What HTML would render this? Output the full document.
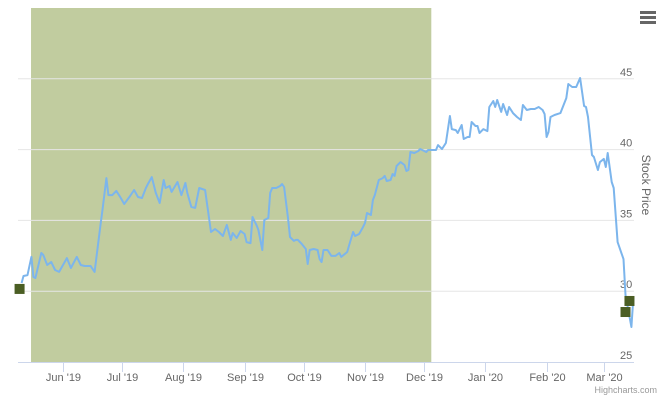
<!DOCTYPE html>
<html><head><meta charset="utf-8"><style>
body{margin:0;background:#fff;}
svg{display:block;font-family:"Liberation Sans",sans-serif;}
</style></head><body>
<svg id="chart" width="660" height="400" viewBox="0 0 660 400" xmlns="http://www.w3.org/2000/svg">
<rect width="660" height="400" fill="#fff"/>
<g id="grid"></g>
<g id="band"></g>
<g id="xaxis"></g>
<g id="yaxis"></g>
<g id="series"></g>
<g id="flags"></g>
<text transform="translate(642,185) rotate(90)" text-anchor="middle" font-size="12" fill="#666">Stock Price</text>
<g>
<rect x="639" y="10" width="18" height="16" fill="#fff"/>
<rect x="640" y="11" width="16" height="3" fill="#666"/>
<rect x="640" y="16" width="16" height="3" fill="#666"/>
<rect x="640" y="21" width="16" height="3" fill="#666"/>
</g>
<text x="657" y="393" text-anchor="end" font-size="9" fill="#999">Highcharts.com</text>
</svg>
<script>
// days since 2019-06-01
const days=[-21,-20,-18,-16,-15,-14,-11,-10,-8,-6,-4,-2,2,4,7,9,11,14,16,19,20,22,23,25,27,29,31,34,36,38,40,42,43,45,47,49,51,52,54,55,58,60,62,63,65,67,69,72,75,77,79,81,83,85,86,88,90,92,93,95,96,98,99,101,102,104,105,106,108,110,111,112,114,115,117,118,119,121,123,124,125,127,129,130,131,132,134,136,138,140,141,144,145,147,148,150,152,153,154,156,157,158,160,162,163,164,166,167,168,169,171,173,174,175,176,178,180,181,184,185,186,189,190,192,194,196,197,199,200,202,203,205,206,207,209,210,211,213,215,216,218,219,220,222,223,225,226,228,230,232,233,235,237,239,241,243,244,245,246,247,249,252,255,256,258,260,262,264,265,266,268,269,271,272,274,275,276,278,279,281,284,285,288,289];
const prices=[30.58,31.07,31.14,32.42,31.00,30.93,32.70,32.56,31.85,32.06,31.50,31.36,32.34,31.64,32.42,31.85,31.78,31.78,31.36,34.68,35.75,37.99,36.79,36.79,37.08,36.65,36.16,36.72,37.15,36.65,36.58,37.29,37.57,38.06,36.94,36.23,37.85,37.29,37.43,37.01,37.71,36.79,37.64,36.94,35.95,35.88,37.29,37.15,34.18,34.39,34.18,33.90,34.68,33.62,34.11,33.76,34.25,34.04,33.47,33.40,35.24,34.68,34.32,32.91,35.03,35.17,36.94,37.29,37.29,37.43,37.57,37.36,35.17,33.83,33.55,33.62,33.62,33.33,32.98,31.92,32.91,32.98,32.91,32.27,32.06,32.91,32.91,32.49,32.49,32.70,32.42,32.77,33.26,34.18,33.90,34.04,34.53,34.82,35.52,35.38,36.44,36.79,37.85,37.99,38.14,37.78,37.85,38.28,38.14,38.84,39.12,38.91,38.49,38.56,39.83,39.76,39.90,40.04,39.83,39.97,39.97,39.97,40.32,40.04,40.47,42.37,41.45,41.38,41.17,41.74,40.75,40.89,40.89,41.95,41.67,41.67,41.17,41.45,41.31,43.01,43.43,43.01,43.50,42.66,43.22,42.44,43.01,42.58,42.30,42.09,43.15,42.80,42.87,42.87,43.01,42.80,42.51,40.89,41.24,42.30,42.44,42.58,43.64,44.63,44.42,44.42,45.06,43.08,43.01,42.30,39.62,39.48,38.56,39.12,39.34,38.77,39.76,37.71,37.29,33.47,32.27,29.73,27.47,29.59];
const flagDays=[-22,287,285];
const flagPrices=[30.16,29.31,28.53];
const bandRange=[-16.2,186.6];
const xTickDays=[0,30,61,92,122,153,183,214,245,274];
const xTickLabels=["Jun '19","Jul '19","Aug '19","Sep '19","Oct '19","Nov '19","Dec '19","Jan '20","Feb '20","Mar '20"];
const yTicks=[25,30,35,40,45];

const NS="http://www.w3.org/2000/svg";
const X0=18,X1=634,Y0=8,Y1=362;
const dMin=-22.8,dMax=289.3,vMin=25,vMax=50;
const xs=d=>X0+(d-dMin)/(dMax-dMin)*(X1-X0);
const ys=v=>Y1-(v-vMin)/(vMax-vMin)*(Y1-Y0);
function mk(tag,parent,attrs){const e=document.createElementNS(NS,tag);for(const k in attrs)e.setAttribute(k,attrs[k]);parent.appendChild(e);return e;}

const grid=document.getElementById('grid');
const yax=document.getElementById('yaxis');
yTicks.forEach(t=>{
  if(t>vMin){const l=mk('line',grid,{x1:X0,x2:X1,y1:ys(t),y2:ys(t),stroke:'#e6e6e6','stroke-width':1});
  
  }
  const tx=mk('text',yax,{x:620,y:ys(t)-3,'font-size':11,fill:'#666'});
  
  
  tx.textContent=t;
});
const band=document.getElementById('band');
const b=mk('rect',band,{x:xs(bandRange[0]),y:Y0,width:xs(bandRange[1])-xs(bandRange[0]),height:Y1-Y0,fill:'#c1cc9f'});


yTicks.forEach(t=>{if(t>vMin){const l=mk('line',band,{x1:xs(bandRange[0]),x2:xs(bandRange[1]),y1:ys(t),y2:ys(t),stroke:'#e6e6e6','stroke-width':1});

}});

const xax=document.getElementById('xaxis');
const al=mk('line',xax,{x1:X0,x2:X1,y1:Y1+0.5,y2:Y1+0.5,stroke:'#ccd6eb','stroke-width':1});


xTickDays.forEach((d,i)=>{
  const x=Math.round(xs(d))+0.5;
  const tk=mk('line',xax,{x1:x,x2:x,y1:Y1,y2:Y1+10,stroke:'#ccd6eb','stroke-width':1});
  
  
  const tx=mk('text',xax,{x:x,y:381,'font-size':11,fill:'#666','text-anchor':'middle'});
  
  
  tx.textContent=xTickLabels[i];
});

const ser=document.getElementById('series');
const p=mk('path',ser,{d:days.map((d,i)=>(i?'L':'M')+xs(d).toFixed(1)+','+ys(prices[i]).toFixed(1)).join(''),fill:'none',stroke:'#7cb5ec','stroke-width':2,'stroke-linejoin':'round'});



const fl=document.getElementById('flags');
flagDays.forEach((d,i)=>{
  const r=mk('rect',fl,{x:xs(d)-5,y:ys(flagPrices[i])-5,width:10,height:10,fill:'#4b5e24'});
  
  
});
</script>
</body></html>
